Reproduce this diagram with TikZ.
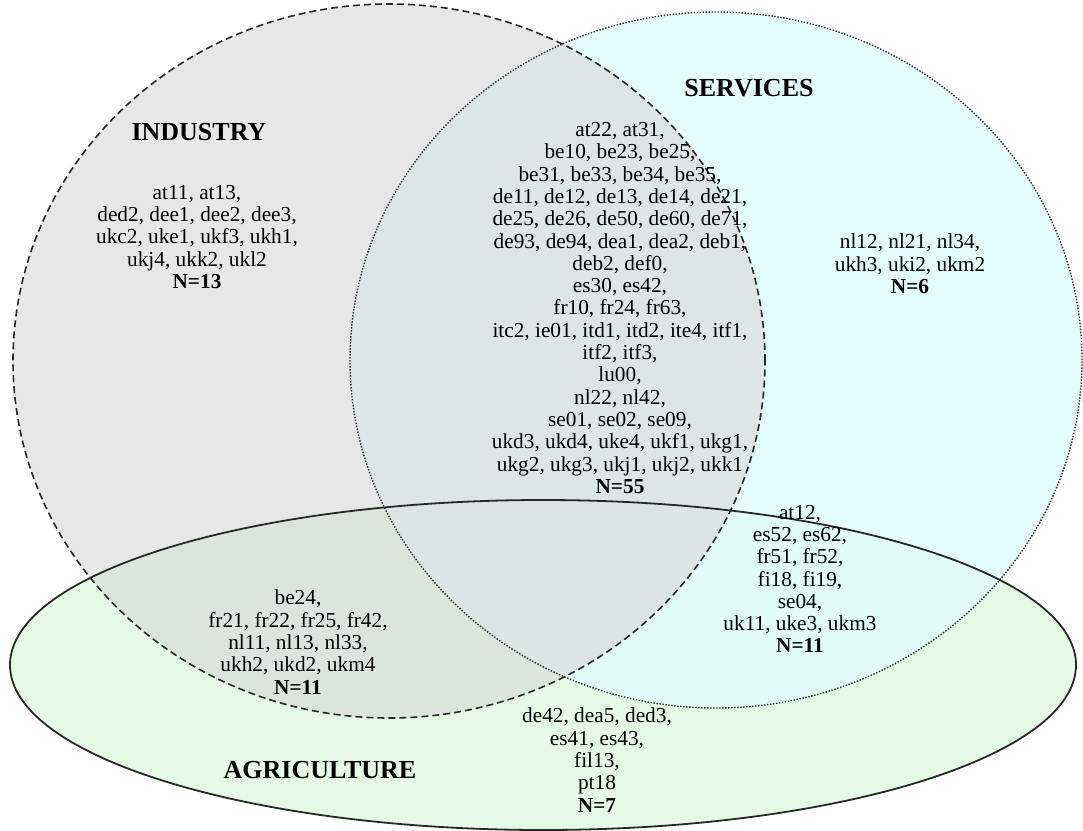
\documentclass[tikz,border=0pt]{standalone}
\usepackage{fontspec}
\setmainfont{Liberation Serif}
\definecolor{indfill}{RGB}{215,215,215}
\definecolor{serfill}{RGB}{225,252,252}
\definecolor{agrfill}{RGB}{228,250,228}
\definecolor{edgecol}{RGB}{40,40,40}
\begin{document}
\begin{tikzpicture}[x=1pt,y=-1pt,
  lbl/.style={align=center,font=\fontsize{21.3}{22.3}\selectfont,inner sep=0pt},
  ttl/.style={font=\fontsize{26}{30}\selectfont\bfseries,inner sep=0pt},
  indline/.style={draw=edgecol,line width=1.6pt,dash pattern=on 7pt off 4pt},
  serline/.style={draw=edgecol,line width=1.4pt,dash pattern=on 1.4pt off 1.6pt},
  agrline/.style={draw=edgecol,line width=1.8pt}]
\useasboundingbox (0,0) rectangle (1083,830);
% fills
\fill[agrfill] (543,665) ellipse [x radius=533pt, y radius=165pt];
\fill[serfill,fill opacity=0.85] (716,360) ellipse [x radius=366pt, y radius=348pt];
\fill[indfill,fill opacity=0.6] (389,361) ellipse [x radius=376pt, y radius=357pt];
% outlines
\path[agrline] (543,665) ellipse [x radius=533pt, y radius=165pt];
\path[serline] (716,360) ellipse [x radius=366pt, y radius=348pt];
\path[indline] (389,361) ellipse [x radius=376pt, y radius=357pt];
% titles
\node[ttl] (tind) at (199,132) {INDUSTRY};
\node[ttl] (tser) at (749,88) {SERVICES};
\node[ttl] (tagr) at (320,770) {AGRICULTURE};
% region labels
\node[lbl] (ind) at (197,237) {at11, at13,\\ ded2, dee1, dee2, dee3,\\ ukc2, uke1, ukf3, ukh1,\\ ukj4, ukk2, ukl2\\ \textbf{N=13}};
\node[lbl] (indser) at (620,308) {at22, at31,\\ be10, be23, be25,\\ be31, be33, be34, be35,\\ de11, de12, de13, de14, de21,\\ de25, de26, de50, de60, de71,\\ de93, de94, dea1, dea2, deb1,\\ deb2, def0,\\ es30, es42,\\ fr10, fr24, fr63,\\ itc2, ie01, itd1, itd2, ite4, itf1,\\ itf2, itf3,\\ lu00,\\ nl22, nl42,\\ se01, se02, se09,\\ ukd3, ukd4, uke4, ukf1, ukg1,\\ ukg2, ukg3, ukj1, ukj2, ukk1\\ \textbf{N=55}};
\node[lbl] (ser) at (910,264) {nl12, nl21, nl34,\\ ukh3, uki2, ukm2\\ \textbf{N=6}};
\node[lbl] (indagr) at (298,642) {be24,\\ fr21, fr22, fr25, fr42,\\ nl11, nl13, nl33,\\ ukh2, ukd2, ukm4\\ \textbf{N=11}};
\node[lbl] (seragr) at (800,579) {at12,\\ es52, es62,\\ fr51, fr52,\\ fi18, fi19,\\ se04,\\ uk11, uke3, ukm3\\ \textbf{N=11}};
\node[lbl] (agr) at (597,760) {de42, dea5, ded3,\\ es41, es43,\\ fil13,\\ pt18\\ \textbf{N=7}};
\end{tikzpicture}
\end{document}
